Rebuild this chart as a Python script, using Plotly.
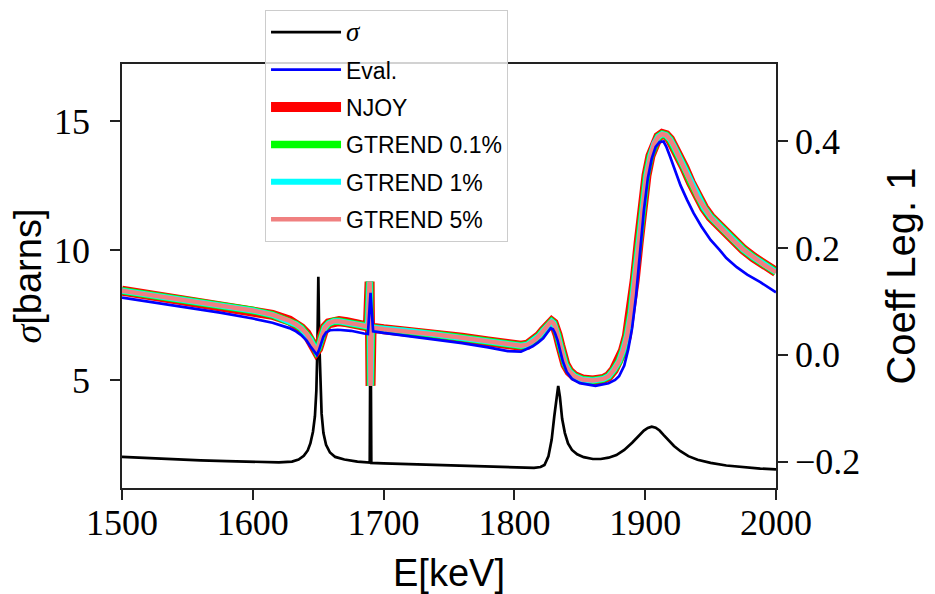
import plotly.graph_objects as go

# ---- Data ----
energy_sigma = [1500, 1520, 1540, 1560, 1580, 1600, 1620, 1630, 1635, 1639, 1642, 1644,
                1646, 1647.5, 1648.6, 1649.4, 1650.1, 1650.8, 1651.6, 1652.6, 1654, 1656,
                1659, 1663, 1670, 1680, 1689.4, 1689.7, 1690, 1690.3, 1690.6, 1700, 1720,
                1740, 1760, 1780, 1800, 1815, 1820, 1823, 1826, 1828.5, 1830.5, 1832.3,
                1833.5, 1834.8, 1836.5, 1838.6, 1841, 1844, 1848, 1853, 1860, 1866, 1872,
                1878, 1884, 1890, 1895, 1899, 1902, 1905, 1908, 1911, 1914, 1918, 1922,
                1927, 1933, 1940, 1950, 1962, 1975, 1988, 2000]
sigma = [2.03, 1.98, 1.94, 1.90, 1.87, 1.84, 1.82, 1.85, 1.93, 2.07, 2.28, 2.55,
         3.00, 3.60, 4.60, 6.30, 8.99, 6.50, 4.80, 3.70, 2.95, 2.50,
         2.20, 2.03, 1.93, 1.85, 1.81, 5.00, 8.20, 5.00, 1.80, 1.78, 1.75,
         1.72, 1.69, 1.66, 1.63, 1.61, 1.64, 1.72, 2.05, 2.70, 3.60, 4.45,
         4.77, 4.35, 3.50, 2.95, 2.55, 2.30, 2.13, 2.02, 1.95, 1.95, 2.00,
         2.10, 2.30, 2.58, 2.85, 3.05, 3.15, 3.20, 3.16, 3.05, 2.88, 2.65, 2.45,
         2.25, 2.06, 1.92, 1.80, 1.70, 1.63, 1.58, 1.55]

energy_coef = [1500, 1525, 1550, 1575, 1600, 1615, 1628, 1633, 1637, 1641, 1644, 1646.5,
               1648.5, 1650, 1651.5, 1653, 1655, 1658, 1662, 1666, 1672, 1680, 1688,
               1689.3, 1690, 1690.8, 1700, 1720, 1740, 1760, 1780, 1795, 1805, 1810,
               1815, 1819, 1822, 1825, 1827, 1828.5, 1830, 1831.5, 1833, 1835, 1837,
               1839, 1842, 1846, 1852, 1860, 1868, 1872, 1876, 1880, 1883, 1886, 1889,
               1892, 1895, 1898, 1901, 1904, 1907, 1910, 1913, 1916, 1919, 1922, 1926,
               1930, 1935, 1940, 1945, 1950, 1955, 1960, 1967, 1975, 1983, 1991, 2000]
njoy = [0.120, 0.111, 0.102, 0.093, 0.083, 0.075, 0.064, 0.057, 0.050, 0.040, 0.029, 0.017,
        0.007, 0.012, 0.026, 0.040, 0.051, 0.059, 0.063, 0.063, 0.061, 0.057, 0.053,
        0.137, -0.058, 0.051, 0.048, 0.044, 0.038, 0.032, 0.025, 0.019, 0.017, 0.019,
        0.027, 0.036, 0.045, 0.055, 0.060, 0.062, 0.059, 0.051, 0.038, 0.018, -0.002,
        -0.018, -0.031, -0.040, -0.046, -0.048, -0.045, -0.040, -0.028, -0.012, 0.008, 0.035, 0.078,
        0.140, 0.210, 0.280, 0.336, 0.372, 0.396, 0.408, 0.413, 0.411, 0.403, 0.390, 0.370,
        0.350, 0.322, 0.295, 0.275, 0.258, 0.245, 0.232, 0.215, 0.197, 0.182, 0.168, 0.155]
gtrend_01 = [0.120, 0.111, 0.102, 0.093, 0.083, 0.075, 0.064, 0.057, 0.050, 0.040, 0.029, 0.017,
             0.007, 0.012, 0.026, 0.040, 0.051, 0.059, 0.063, 0.063, 0.061, 0.057, 0.053,
             0.137, -0.058, 0.051, 0.048, 0.044, 0.038, 0.032, 0.025, 0.019, 0.017, 0.019,
             0.027, 0.036, 0.045, 0.055, 0.060, 0.062, 0.059, 0.051, 0.038, 0.018, -0.002,
             -0.018, -0.031, -0.040, -0.046, -0.048, -0.045, -0.040, -0.028, -0.012, 0.008, 0.035, 0.078,
             0.140, 0.210, 0.280, 0.336, 0.372, 0.396, 0.408, 0.413, 0.411, 0.403, 0.390, 0.370,
             0.350, 0.322, 0.295, 0.275, 0.258, 0.245, 0.232, 0.215, 0.197, 0.182, 0.168, 0.155]
gtrend_1 = list(gtrend_01)
gtrend_5 = list(gtrend_01)

energy_eval = [1500, 1525, 1550, 1575, 1600, 1615, 1628, 1633, 1637, 1641, 1644, 1647,
               1649, 1650.5, 1652, 1654, 1656, 1659, 1665, 1675, 1685, 1688, 1690, 1692,
               1700, 1720, 1740, 1760, 1780, 1795, 1805, 1814, 1818, 1822, 1825, 1827.7,
               1829.5, 1831, 1833, 1835, 1837, 1840, 1844, 1850, 1862, 1872, 1877, 1880,
               1884, 1887, 1890, 1893, 1896, 1899, 1902, 1905, 1908, 1911, 1914, 1916,
               1919, 1923, 1927, 1932, 1937, 1943, 1950, 1957, 1962, 1970, 1978, 1988, 2000]
eval_coef = [0.107, 0.098, 0.089, 0.079, 0.068, 0.060, 0.050, 0.044, 0.037, 0.027, 0.016, 0.005,
             0.000, 0.008, 0.021, 0.034, 0.042, 0.046, 0.047, 0.045, 0.040, 0.039, 0.116, 0.044,
             0.041, 0.035, 0.029, 0.022, 0.014, 0.007, 0.006, 0.016, 0.023, 0.031, 0.041, 0.050,
             0.048, 0.041, 0.027, 0.008, -0.012, -0.032, -0.045, -0.053, -0.058, -0.053, -0.047, -0.040,
             -0.020, 0.010, 0.050, 0.110, 0.190, 0.270, 0.330, 0.367, 0.389, 0.398, 0.399, 0.390,
             0.371, 0.345, 0.317, 0.290, 0.265, 0.240, 0.215, 0.196, 0.181, 0.164, 0.150, 0.136, 0.117]

x_ticks = [1500, 1600, 1700, 1800, 1900, 2000]
y_ticks = [5, 10, 15]
y2_ticks = [-0.2, 0.0, 0.2, 0.4]

SERIF = "Liberation Serif"
SANS = "Liberation Sans"
AX = "#222222"

sigma_name = f"<span style=\"font-family:'{SERIF}';font-size:27px\"><i>σ</i></span>"

fig = go.Figure()
fig.add_trace(go.Scatter(x=energy_sigma, y=sigma, mode="lines", name=sigma_name,
                         line=dict(color="black", width=2.7), yaxis="y",
                         legendrank=1, legendgroup="g1"))
fig.add_trace(go.Scatter(x=energy_coef, y=njoy, mode="lines", name="NJOY",
                         line=dict(color="#ff0000", width=10), yaxis="y2",
                         legendrank=3, legendgroup="g3"))
fig.add_trace(go.Scatter(x=energy_coef, y=gtrend_01, mode="lines", name="GTREND 0.1%",
                         line=dict(color="#00ff00", width=7.5), yaxis="y2",
                         legendrank=4, legendgroup="g4"))
fig.add_trace(go.Scatter(x=energy_coef, y=gtrend_1, mode="lines", name="GTREND 1%",
                         line=dict(color="#00ffff", width=6), yaxis="y2",
                         legendrank=5, legendgroup="g5"))
fig.add_trace(go.Scatter(x=energy_coef, y=gtrend_5, mode="lines", name="GTREND 5%",
                         line=dict(color="#f08080", width=4.5), yaxis="y2",
                         legendrank=6, legendgroup="g6"))
fig.add_trace(go.Scatter(x=energy_eval, y=eval_coef, mode="lines", name="Eval.",
                         line=dict(color="#0000ff", width=2.7), yaxis="y2",
                         legendrank=2, legendgroup="g2"))

tickfont = dict(family=SERIF, size=36, color="black")
titlefont = dict(family=SANS, size=38, color="black")

fig.update_layout(
    width=935, height=594,
    margin=dict(l=122, r=159, t=64, b=106, autoexpand=False),
    paper_bgcolor="white", plot_bgcolor="white",
    xaxis=dict(range=[1500, 2000], tickvals=x_ticks, ticks="outside", ticklen=10,
               tickwidth=1.5, tickcolor=AX, showline=True, linecolor=AX, linewidth=1.5,
               mirror=True, showgrid=False, zeroline=False, tickfont=tickfont,
               automargin=False, ticklabelstandoff=-8,
               title=dict(text="E[keV]", font=titlefont, standoff=18)),
    yaxis=dict(range=[0.83, 17.2], tickvals=y_ticks, ticks="outside", ticklen=10,
               tickwidth=1.5, tickcolor=AX, showline=True, linecolor=AX, linewidth=1.5,
               showgrid=False, zeroline=False, tickfont=tickfont, side="left",
               automargin=False, ticklabelstandoff=13,
               title=dict(text=f"<span style=\"font-family:'{SERIF}'\"><i>σ</i></span>[barns]",
                          font=titlefont, standoff=1)),
    yaxis2=dict(range=[-0.249, 0.544], tickvals=y2_ticks, tickformat=".1f",
                overlaying="y", side="right", ticks="outside", ticklen=10,
                tickwidth=1.5, tickcolor=AX, showline=True, linecolor=AX, linewidth=1.5,
                showgrid=False, zeroline=False, tickfont=tickfont, automargin=False,
                title=dict(text="Coeff Leg. 1", font=dict(family=SANS, size=40, color="black"),
                           standoff=28)),
    legend=dict(x=0.2187, y=1.128, xanchor="left", yanchor="top",
                bgcolor="rgba(255,255,255,0.8)", bordercolor="#cccccc", borderwidth=1,
                font=dict(family=SANS, size=23, color="black"),
                tracegroupgap=4.5, itemwidth=70, traceorder="grouped"),
    showlegend=True,
)

fig.write_html("out.html")
